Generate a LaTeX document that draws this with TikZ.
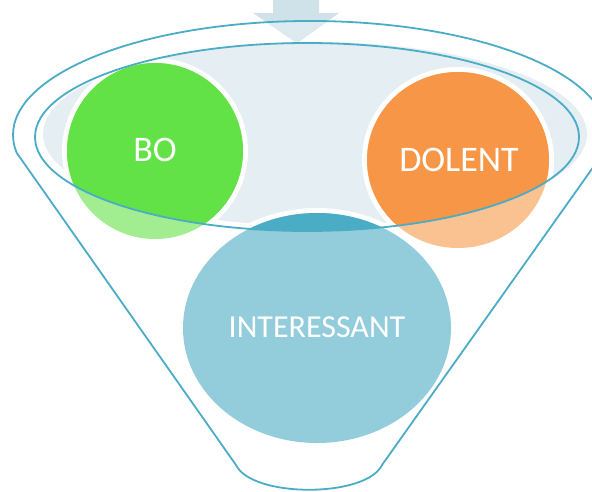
\documentclass[tikz,border=0pt]{standalone}
\usepackage{fontspec}
\setmainfont{Carlito}
\definecolor{rimc}{HTML}{4BACC6}
\definecolor{innerfill}{HTML}{E4EEF3}
\definecolor{arrowc}{HTML}{CFE2EA}
\definecolor{arrowl}{HTML}{DDEAF0}
\definecolor{greenfull}{HTML}{62E246}
\definecolor{greenlight}{HTML}{A1ED8F}
\definecolor{orangefull}{HTML}{F79646}
\definecolor{orangelight}{HTML}{FAC291}
\definecolor{tealdark}{HTML}{4BACC6}
\definecolor{teallight}{HTML}{93CDDC}
\tikzset{
  rim/.style={draw=rimc, line width=1.8pt},
  lbl/.style={text=white, inner sep=0pt, font=\fontsize{36}{40}\selectfont},
}
\begin{document}
\begin{tikzpicture}[x=1pt,y=-1pt]
\useasboundingbox (0,0) rectangle (592,491);
% arrow
\fill[arrowc] (273,0) -- (319,0) -- (319,13) -- (339,13) -- (297,43) -- (253,13) -- (273,13) -- cycle;
\begin{scope}
  \clip (310,135) ellipse [x radius=297, y radius=114];
  \fill[arrowl] (273,0) -- (319,0) -- (319,13) -- (339,13) -- (297,43) -- (253,13) -- (273,13) -- cycle;
\end{scope}
% inner light fill
\fill[innerfill] (315,134) ellipse [x radius=272, y radius=92];
% INTERESSANT
\fill[white] (317,328) ellipse [x radius=139, y radius=120];
\fill[teallight] (317,328) ellipse [x radius=134, y radius=115];
\begin{scope}
  \clip (307,137) ellipse [x radius=272, y radius=94];
  \fill[tealdark] (317,328) ellipse [x radius=134, y radius=115];
\end{scope}
% BO
\fill[white] (155,151) circle [radius=93];
\fill[greenlight] (155,151) circle [radius=88];
\begin{scope}
  \clip (307,137) ellipse [x radius=272, y radius=94];
  \fill[greenfull] (155,151) circle [radius=88];
\end{scope}
% DOLENT
\fill[white] (458,160) ellipse [x radius=96, y radius=93];
\fill[orangelight] (458,160) ellipse [x radius=91, y radius=88];
\begin{scope}
  \clip (307,137) ellipse [x radius=272, y radius=94];
  \fill[orangefull] (458,160) ellipse [x radius=91, y radius=88];
\end{scope}
% funnel lines
\draw[rim] (307,137) ellipse [x radius=272, y radius=94];
\draw[rim, line join=round] (16.7,152.8) arc [start angle=171, end angle=369, x radius=297, y radius=114]
  -- (382,465) .. controls (366,498) and (252,498) .. (236,465) -- cycle;
% labels
\node[lbl] (bo) at (155,150) {BO};
\node[lbl] (dolent) at (459,160) {DOLENT};
\node[lbl, font=\fontsize{32}{36}\selectfont] (interessant) at (317,327) {INTERESSANT};
\end{tikzpicture}
\end{document}
